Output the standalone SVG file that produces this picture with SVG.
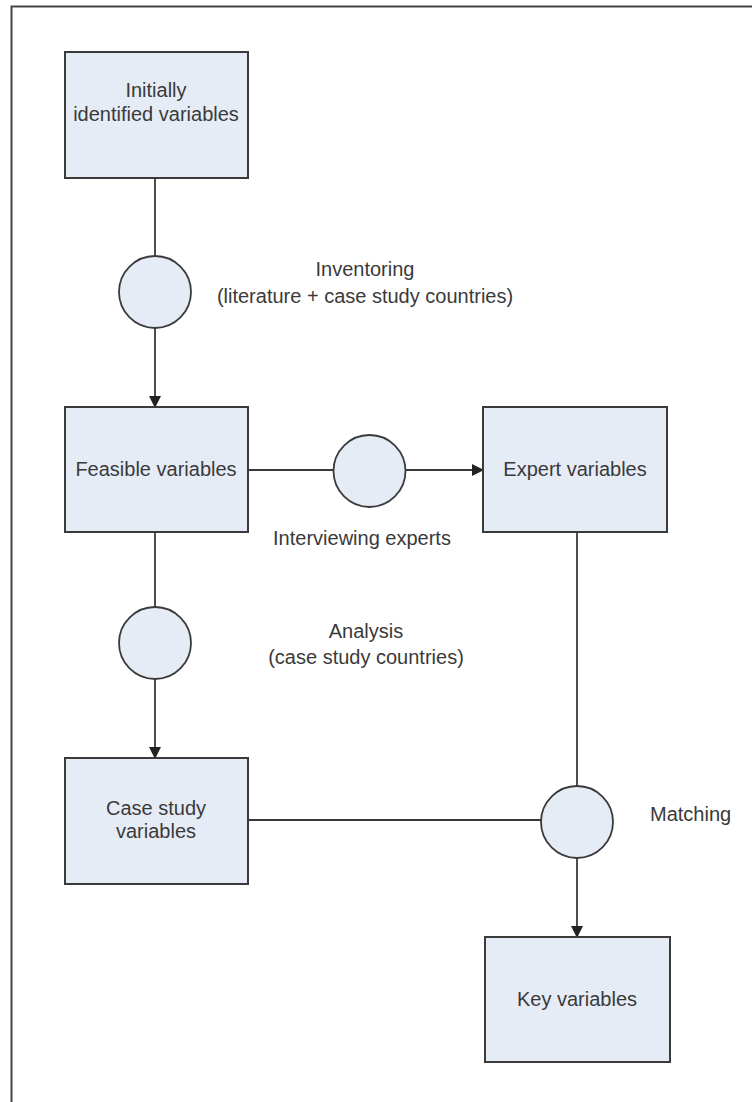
<svg xmlns="http://www.w3.org/2000/svg" width="752" height="1102" viewBox="0 0 752 1102">
<style>
.box{fill:#e6ecf6;stroke:#3a3a3a;stroke-width:2}
.op{fill:#e6ecf6;stroke:#3a3a3a;stroke-width:1.8}
.ln{fill:none;stroke:#3a3a3a;stroke-width:1.8}
text{font-family:"Liberation Sans",Arial,sans-serif;font-size:20px;fill:#3a3a3a}
.c{text-anchor:middle}
</style>
<defs>
<marker id="arr" markerWidth="12" markerHeight="12" refX="11" refY="6" orient="auto" markerUnits="userSpaceOnUse">
<path d="M0,0 L12,6 L0,12 Z" fill="#222"/>
</marker>
</defs>
<rect x="0" y="0" width="752" height="1102" fill="#fff"/>
<path d="M11.5,1102 V6.5 H752" fill="none" stroke="#444" stroke-width="2"/>
<g id="connectors">
<line class="ln" x1="155" y1="178" x2="155" y2="256"/>
<line class="ln" x1="155" y1="328" x2="155" y2="407" marker-end="url(#arr)"/>
<line class="ln" x1="248" y1="470" x2="333" y2="470"/>
<line class="ln" x1="406" y1="470" x2="483" y2="470" marker-end="url(#arr)"/>
<line class="ln" x1="155" y1="532" x2="155" y2="607"/>
<line class="ln" x1="155" y1="679" x2="155" y2="758" marker-end="url(#arr)"/>
<line class="ln" x1="248" y1="820" x2="541" y2="820"/>
<line class="ln" x1="577" y1="532" x2="577" y2="786"/>
<line class="ln" x1="577" y1="858" x2="577" y2="937" marker-end="url(#arr)"/>
</g>
<g id="initial">
<rect class="box" x="65" y="52" width="183" height="126"/>
<text class="c" x="156" y="97">Initially</text>
<text class="c" x="156" y="121">identified variables</text>
</g>
<g id="inventoring">
<circle class="op" cx="155" cy="292" r="36"/>
<text class="c" x="365" y="276">Inventoring</text>
<text class="c" x="365" y="303">(literature + case study countries)</text>
</g>
<g id="feasible">
<rect class="box" x="65" y="407" width="183" height="125"/>
<text class="c" x="156" y="476">Feasible variables</text>
</g>
<g id="interviewing">
<circle class="op" cx="369.5" cy="471" r="36"/>
<text class="c" x="362" y="545">Interviewing experts</text>
</g>
<g id="expert">
<rect class="box" x="483" y="407" width="184" height="125"/>
<text class="c" x="575" y="476">Expert variables</text>
</g>
<g id="analysis">
<circle class="op" cx="155" cy="643" r="36"/>
<text class="c" x="366" y="638">Analysis</text>
<text class="c" x="366" y="664">(case study countries)</text>
</g>
<g id="casestudy">
<rect class="box" x="65" y="758" width="183" height="126"/>
<text class="c" x="156" y="815">Case study</text>
<text class="c" x="156" y="838">variables</text>
</g>
<g id="matching">
<circle class="op" cx="577" cy="822" r="36"/>
<text x="650" y="821">Matching</text>
</g>
<g id="key">
<rect class="box" x="485" y="937" width="185" height="125"/>
<text class="c" x="577" y="1006">Key variables</text>
</g>
</svg>
